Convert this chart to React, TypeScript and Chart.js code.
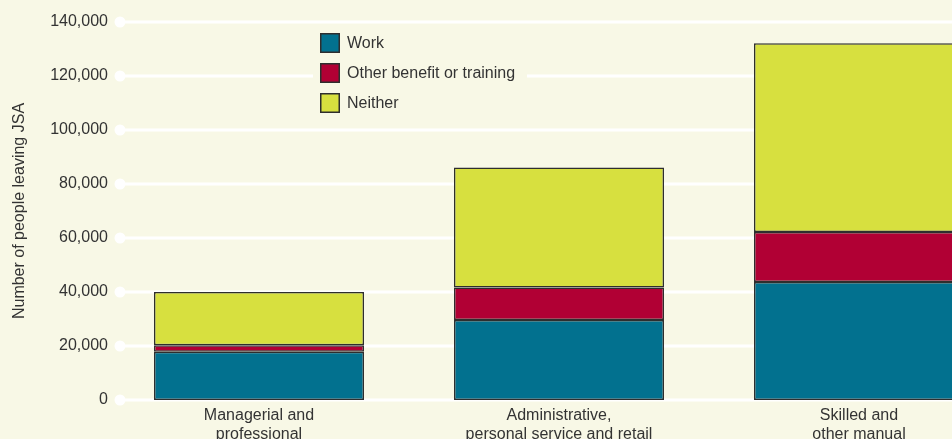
import React, { useEffect, useRef } from "react";
import { Chart, registerables } from "chart.js";

Chart.register(...registerables);

const categories: string[][] = [
  ["Managerial and", "professional"],
  ["Administrative,", "personal service and retail"],
  ["Skilled and", "other manual"],
];
const workValues = [17900, 29600, 43700];
const otherValues = [2400, 12100, 18500];
const neitherValues = [19700, 44400, 69900];
const seriesNames = ["Work", "Other benefit or training", "Neither"];
const seriesColors = ["#02718f", "#b10034", "#d7e03f"];
const yTicks = [0, 20000, 40000, 60000, 80000, 100000, 120000, 140000];

const BG = "#f8f8e6";
const TEXT = "#333333";
const FONT = "'Liberation Sans', Arial, Helvetica, sans-serif";

const gridPlugin = {
  id: "dotGrid",
  beforeDatasetsDraw(chart: any) {
    const { ctx, chartArea } = chart;
    const y = chart.scales.y;
    const x0 = chartArea.left + 11;
    ctx.save();
    ctx.strokeStyle = "#ffffff";
    ctx.fillStyle = "#ffffff";
    ctx.lineWidth = 3;
    y.ticks.forEach((t: any) => {
      const py = y.getPixelForValue(t.value);
      ctx.beginPath();
      ctx.moveTo(x0, py);
      ctx.lineTo(chart.width, py);
      ctx.stroke();
      ctx.beginPath();
      ctx.arc(x0, py, 5.5, 0, Math.PI * 2);
      ctx.fill();
    });
    ctx.restore();
  },
};

const legendPlugin = {
  id: "innerLegend",
  afterDatasetsDraw(chart: any) {
    const { ctx, chartArea } = chart;
    const lx = chartArea.left + 211;
    const ly = chartArea.top + 11;
    ctx.save();
    ctx.fillStyle = BG;
    ctx.fillRect(lx - 7, ly - 5, 214, 90);
    ctx.font = `16px ${FONT}`;
    ctx.textBaseline = "middle";
    seriesNames.forEach((name, i) => {
      const by = ly + i * 30;
      ctx.fillStyle = seriesColors[i];
      ctx.fillRect(lx, by, 20, 20);
      ctx.strokeStyle = "#2e2e2e";
      ctx.lineWidth = 1.5;
      ctx.strokeRect(lx + 0.75, by + 0.75, 18.5, 18.5);
      ctx.fillStyle = TEXT;
      ctx.fillText(name, lx + 27, by + 10.5);
    });
    ctx.restore();
  },
};

export default function App() {
  const ref = useRef<HTMLCanvasElement | null>(null);
  useEffect(() => {
    if (!ref.current) return;
    const mk = (i: number, data: number[]) => ({
      label: seriesNames[i],
      data,
      backgroundColor: seriesColors[i],
      borderColor: "#2e2e2e",
      borderWidth: 1.5,
      borderSkipped: false,
    });
    const chart = new Chart(ref.current, {
      type: "bar",
      data: {
        labels: categories,
        datasets: [mk(0, workValues), mk(1, otherValues), mk(2, neitherValues)],
      },
      options: {
        animation: false,
        responsive: false,
        layout: { padding: { top: 22, right: 1, left: 0, bottom: 0 } },
        plugins: { legend: { display: false }, tooltip: { enabled: false } },
        datasets: { bar: { categoryPercentage: 1, barPercentage: 0.7 } },
        scales: {
          x: {
            stacked: true,
            grid: { display: false, drawTicks: false },
            border: { display: false },
            ticks: { color: TEXT, font: { size: 16, family: FONT }, padding: 6, maxRotation: 0, autoSkip: false },
            afterFit: (s: any) => { s.height = 50; },
          },
          y: {
            stacked: true,
            min: 0,
            max: 140000,
            grid: { display: false, drawTicks: false },
            border: { display: false },
            afterBuildTicks: (s: any) => { s.ticks = yTicks.map((v) => ({ value: v })); },
            ticks: {
              color: TEXT,
              font: { size: 16, family: FONT },
              padding: 1,
              callback: (v: any) => Number(v).toLocaleString("en-US"),
            },
            title: {
              display: true,
              text: "Number of people leaving JSA",
              color: TEXT,
              font: { size: 16, family: FONT },
              padding: { top: 10, bottom: 0 },
            },
            afterFit: (s: any) => { s.width = 109; },
          },
        },
      },
      plugins: [gridPlugin, legendPlugin],
    });
    return () => chart.destroy();
  }, []);
  return (
    <div style={{ position: "fixed", left: 0, top: 0, width: 952, height: 439, overflow: "hidden", background: BG }}>
      <canvas ref={ref} width={1010} height={450} style={{ display: "block" }} />
    </div>
  );
}
